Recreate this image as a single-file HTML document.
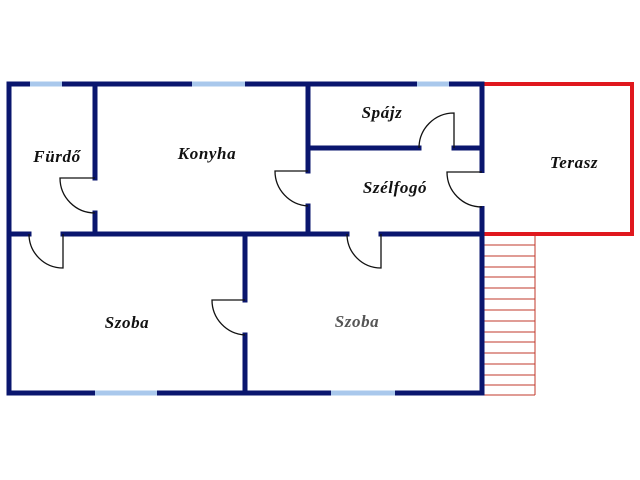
<!DOCTYPE html>
<html><head><style>
html,body{margin:0;padding:0;background:#fff;width:640px;height:480px;overflow:hidden}
text{font-family:"Liberation Serif",serif;font-style:italic;font-weight:bold;font-size:17px;letter-spacing:0.6px;fill:#111}
</style></head><body>
<svg width="640" height="480" viewBox="0 0 640 480" xmlns="http://www.w3.org/2000/svg">
<g stroke="#c0392b" stroke-width="1" fill="none">
<line x1="535" y1="234" x2="535" y2="395"/>
<line x1="482" y1="245" x2="535" y2="245"/><line x1="482" y1="256" x2="535" y2="256"/>
<line x1="482" y1="267" x2="535" y2="267"/><line x1="482" y1="277" x2="535" y2="277"/>
<line x1="482" y1="288" x2="535" y2="288"/><line x1="482" y1="299" x2="535" y2="299"/>
<line x1="482" y1="310" x2="535" y2="310"/><line x1="482" y1="321" x2="535" y2="321"/>
<line x1="482" y1="332" x2="535" y2="332"/><line x1="482" y1="342" x2="535" y2="342"/>
<line x1="482" y1="353" x2="535" y2="353"/><line x1="482" y1="364" x2="535" y2="364"/>
<line x1="482" y1="375" x2="535" y2="375"/><line x1="482" y1="385" x2="535" y2="385"/>
<line x1="482" y1="395" x2="535" y2="395"/>
</g>
<polyline points="482,84 632,84 632,234 482,234" fill="none" stroke="#e0181e" stroke-width="4"/>
<g stroke="#0a166e" stroke-width="5" fill="none" stroke-linecap="square">
<rect x="9" y="84" width="473" height="309"/>
<line x1="95" y1="84" x2="95" y2="178"/><line x1="95" y1="213" x2="95" y2="234"/>
<line x1="9" y1="234" x2="29" y2="234"/><line x1="63" y1="234" x2="347" y2="234"/><line x1="381" y1="234" x2="482" y2="234"/>
<line x1="308" y1="84" x2="308" y2="171"/><line x1="308" y1="206" x2="308" y2="234"/>
<line x1="308" y1="148" x2="419" y2="148"/><line x1="454" y1="148" x2="482" y2="148"/>
<line x1="245" y1="234" x2="245" y2="300"/><line x1="245" y1="335" x2="245" y2="393"/>
</g>
<line x1="482" y1="173" x2="482" y2="206" stroke="#fff" stroke-width="7"/>
<g stroke="#a9c8ec" stroke-width="5">
<line x1="30" y1="84" x2="62" y2="84"/><line x1="192" y1="84" x2="245" y2="84"/><line x1="417" y1="84" x2="449" y2="84"/>
<line x1="95" y1="393" x2="157" y2="393"/><line x1="331" y1="393" x2="395" y2="393"/>
</g>
<g stroke="#111" stroke-width="1.3" fill="none">
<path d="M95,178 L60,178 A35,35 0 0 0 95,213"/>
<path d="M63,234 L63,268 A34,34 0 0 1 29,234"/>
<path d="M308,171 L275,171 A35,35 0 0 0 308,206"/>
<path d="M454,148 L454,113 A35,35 0 0 0 419,148"/>
<path d="M482,172 L447,172 A35,35 0 0 0 482,207"/>
<path d="M381,234 L381,268 A34,34 0 0 1 347,234"/>
<path d="M245,300 L212,300 A35,35 0 0 0 245,335"/>
</g>
<text x="57" y="162" text-anchor="middle">Fürdő</text>
<text x="207" y="159" text-anchor="middle">Konyha</text>
<text x="382" y="118" text-anchor="middle">Spájz</text>
<text x="395" y="193" text-anchor="middle">Szélfogó</text>
<text x="574" y="168" text-anchor="middle">Terasz</text>
<text x="127" y="328" text-anchor="middle">Szoba</text>
<text x="357" y="327" text-anchor="middle" style="fill:#555">Szoba</text>
</svg>
</body></html>
